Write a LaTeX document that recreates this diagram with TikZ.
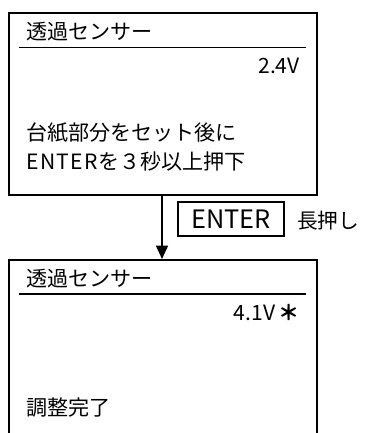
\documentclass[tikz,border=0pt]{standalone}
\usepackage{fontspec}
\setmainfont[Kerning=Off]{Noto Sans CJK JP}
\newfontfamily\wideLatin[Kerning=Off,LetterSpace=7]{Noto Sans CJK JP}
\usetikzlibrary{arrows.meta}
\begin{document}
\begin{tikzpicture}[x=0.75pt,y=-0.75pt,
  screen/.style={draw,line width=1.5pt,anchor=north west,minimum width=231pt,inner sep=0pt},
  txt/.style={inner sep=0pt,font=\fontsize{15.8pt}{18pt}\selectfont},
  rule/.style={line width=1.4pt},
  keybox/.style={draw,line width=1.5pt,minimum width=79pt,minimum height=25pt,inner sep=0pt,font=\fontsize{19pt}{22pt}\selectfont},
  flow/.style={line width=1.2pt,-{Triangle[length=10pt,width=9pt]}}]
\useasboundingbox (0,0) rectangle (372,433);
\clip (0,0) rectangle (372,433);
% top screen
\node[screen,minimum height=136.5pt] (s1) at (8,12) {};
\node[txt,anchor=west] (h1) at (26,32) {透過センサー};
\coordinate (u1a) at (19,47.5);
\coordinate (u1b) at (306,47.5);
\draw[rule] (u1a) -- (u1b);
\node[txt,anchor=east] (v1) at (300,66) {2.4V};
\node[txt,anchor=west] (m1) at (26,133) {台紙部分をセット後に};
\node[txt,anchor=west] (m2) at (26,162) {{\wideLatin ENTER}を３秒以上押下};
% bottom screen
\node[screen,minimum height=150pt] (s2) at (8,259) {};
\node[txt,anchor=west] (h2) at (26,279) {透過センサー};
\coordinate (u2a) at (19,294);
\coordinate (u2b) at (306,294);
\draw[rule] (u2a) -- (u2b);
\node[txt,anchor=east] (v2) at (300,313) {4.1V\,\textbf{＊}};
\node[txt,anchor=west] (m3) at (26,408) {調整完了};
% arrow and key
\draw[flow] (s1.south -| 162,0) -- (s2.north -| 162,0);
\node[keybox] (key) at (231,219) {ENTER};
\node[txt,anchor=west,font=\fontsize{15.5pt}{18pt}\selectfont] (lp) at (297,221) {長押し};
\end{tikzpicture}
\end{document}
